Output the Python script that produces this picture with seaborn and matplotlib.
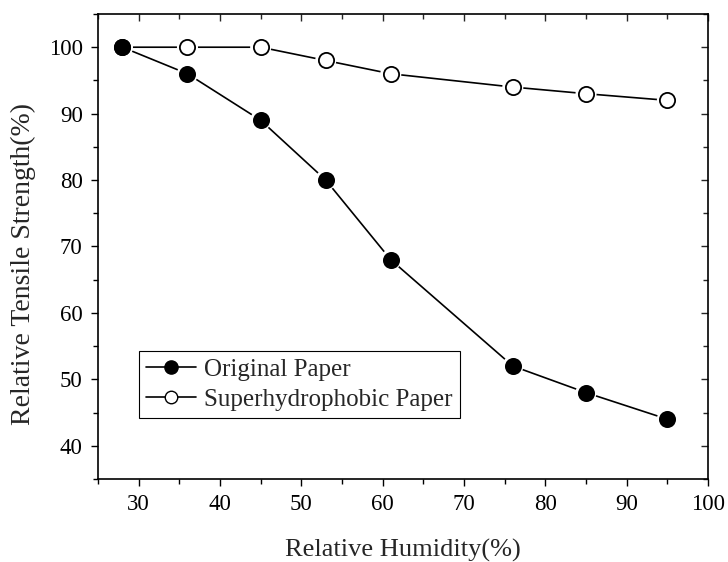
import matplotlib
matplotlib.use("Agg")
import matplotlib.pyplot as plt
import seaborn as sns
import pandas as pd
from matplotlib.ticker import MultipleLocator
from matplotlib.lines import Line2D

humidity = [28, 36, 45, 53, 61, 76, 85, 95]
original = [100, 96, 89, 80, 68, 52, 48, 44]
superhydro = [100, 100, 100, 98, 96, 94, 93, 92]
series_names = ["Original Paper", "Superhydrophobic Paper"]

sns.set_theme(style="ticks")
plt.rcParams['font.family'] = ['Liberation Serif', 'DejaVu Serif']

fig = plt.figure(figsize=(7.28, 5.62), dpi=100)
ax = fig.add_axes([0.1346, 0.1477, 0.838, 0.8274])

df_s = pd.DataFrame({"x": humidity, "y": superhydro})
df_o = pd.DataFrame({"x": humidity, "y": original})

# lines
sns.lineplot(data=df_s, x="x", y="y", ax=ax, color="black", lw=1.2, zorder=1)
sns.lineplot(data=df_o, x="x", y="y", ax=ax, color="black", lw=1.2, zorder=1)
# white halos (gap between line and marker)
for d in (df_s, df_o):
    sns.scatterplot(data=d, x="x", y="y", ax=ax, s=230, color="white",
                    edgecolor="none", linewidth=0, zorder=2)
# markers
sns.scatterplot(data=df_s, x="x", y="y", ax=ax, s=120, color="white",
                edgecolor="black", linewidth=1.3, zorder=3)
sns.scatterplot(data=df_o, x="x", y="y", ax=ax, s=120, color="black",
                edgecolor="black", linewidth=1.3, zorder=4)

ax.set_xlim(25, 100)
ax.set_ylim(35, 105)
ax.xaxis.set_major_locator(MultipleLocator(10))
ax.xaxis.set_minor_locator(MultipleLocator(5))
ax.yaxis.set_major_locator(MultipleLocator(10))
ax.yaxis.set_minor_locator(MultipleLocator(5))
ax.set_xticks(range(30, 101, 10))
ax.set_yticks(range(40, 101, 10))

ax.tick_params(which="both", direction="out", top=False, right=False,
               colors="black", labelsize=16.5, width=1)
ax.tick_params(which="major", length=5, pad=6)
ax.tick_params(which="minor", length=3.5)

ax2 = ax.secondary_xaxis("top")
ax2.xaxis.set_major_locator(MultipleLocator(10))
ax2.xaxis.set_minor_locator(MultipleLocator(5))
ax2.tick_params(which="both", direction="in", labeltop=False, width=1)
ax2.tick_params(which="major", length=5)
ax2.tick_params(which="minor", length=3.5)
ax3 = ax.secondary_yaxis("right")
ax3.yaxis.set_major_locator(MultipleLocator(10))
ax3.yaxis.set_minor_locator(MultipleLocator(5))
ax3.tick_params(which="both", direction="in", labelright=False, width=1)
ax3.tick_params(which="major", length=5)
ax3.tick_params(which="minor", length=3.5)
for a in (ax2, ax3):
    for s in a.spines.values():
        s.set_visible(False)

for s in ax.spines.values():
    s.set_visible(True)
    s.set_color("black")
    s.set_linewidth(1.2)

ax.set_xlabel("Relative Humidity(%)", fontsize=19, labelpad=17)
ax.set_ylabel("Relative Tensile Strength(%)", fontsize=20)
ax.yaxis.set_label_coords(-0.102, 0.462)

handles = [
    Line2D([], [], color="black", lw=1.2, marker="o", markersize=9.5,
           markerfacecolor="black", markeredgecolor="black"),
    Line2D([], [], color="black", lw=1.2, marker="o", markersize=9,
           markerfacecolor="white", markeredgecolor="black"),
]
leg = ax.legend(handles, series_names, loc="lower left",
                bbox_to_anchor=(0.067, 0.131), fontsize=18, frameon=True,
                fancybox=False, edgecolor="black", framealpha=1,
                handlelength=2.0, handletextpad=0.3, borderpad=0.3,
                labelspacing=0.3, borderaxespad=0)
leg.get_frame().set_linewidth(0.8)

fig.savefig("out.png", dpi=100)
